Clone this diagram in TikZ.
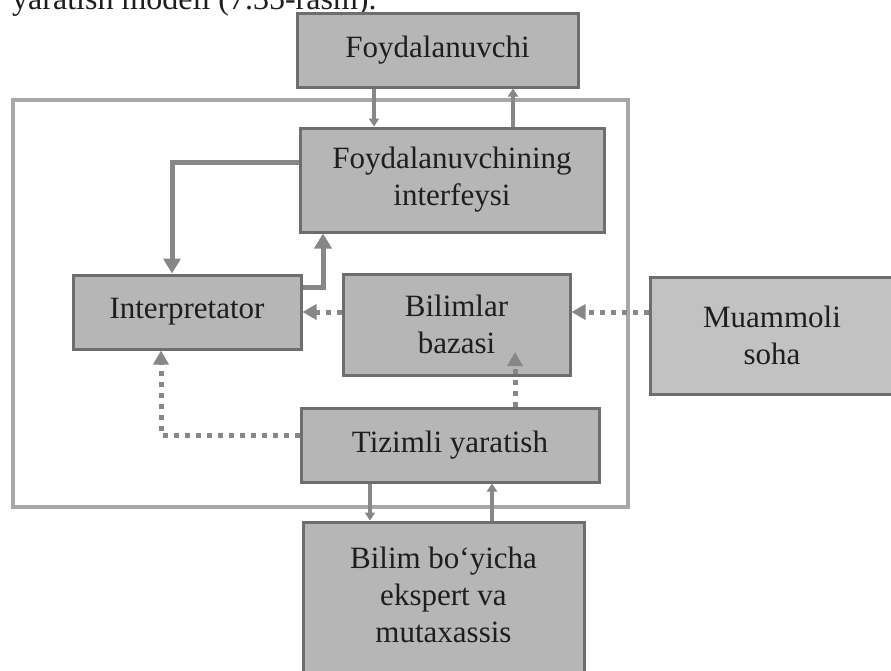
\documentclass[tikz,border=0pt]{standalone}
\usepackage{fontspec}
\setmainfont{Liberation Serif}
\usetikzlibrary{arrows.meta}
\definecolor{boxfill}{HTML}{B6B6B6}
\definecolor{boxfilllight}{HTML}{C2C2C2}
\definecolor{boxdraw}{HTML}{6E6E6E}
\definecolor{framec}{HTML}{A8A8A8}
\definecolor{arrc}{HTML}{878787}
\definecolor{txtc}{HTML}{1E1E1E}
\begin{document}
\begin{tikzpicture}[x=1pt,y=-1pt,
  boxnode/.style={draw=boxdraw, fill=boxfill, line width=3pt, inner sep=0pt,
    align=center, text=txtc, font=\fontsize{31}{37}\selectfont},
  txtnode/.style={inner sep=0pt, align=center, text=txtc, font=\fontsize{31}{37}\selectfont},
  solidarr/.style={draw=arrc, line width=5pt, -{Triangle[width=17pt,length=15pt]}},
  thinarr/.style={draw=arrc, line width=4.5pt, -{Triangle[width=10pt,length=8pt]}},
  dotarr/.style={draw=arrc, line width=5pt, dash pattern=on 5pt off 6pt,
    -{Triangle[width=15pt,length=14pt]}}
]
\useasboundingbox (0,0) rectangle (891,670);
\clip (0,0) rectangle (891,670);
\fill[white] (0,0) rectangle (891,670);

% clipped line of body text at the top
\node[txtnode, anchor=base west, font=\fontsize{32}{38}\selectfont] (toptext) at (12,9) {yaratish modeli (7.35-rasm).};

% outer frame
\draw[framec, line width=3.5pt] (13,100) rectangle (628,507);

% boxes
\node[boxnode, minimum width=281pt, minimum height=74pt] (foyd) at (437.5,50) {Foydalanuvchi};
\node[boxnode, minimum width=304pt, minimum height=104pt] (intf) at (452,180) {Foydalanuvchining\\interfeysi};
\node[boxnode, minimum width=228pt, minimum height=74pt] (interp) at (187,312) {Interpretator};
\node[boxnode, minimum width=227pt, minimum height=101pt] (bilim) at (456.5,324.5) {Bilimlar\\bazasi};
\node[boxnode, fill=boxfilllight, minimum width=244pt, minimum height=117pt] (muam) at (772,335.5) {Muammoli\\soha};
\node[boxnode, minimum width=298pt, minimum height=74pt] (tiz) at (450,445) {Tizimli yaratish};
\node[boxnode, minimum width=281pt, minimum height=168pt] (eksp) at (443.5,606) {};
\node[txtnode] (ekspt) at (443.5,595) {Bilim bo‘yicha\\ekspert va\\mutaxassis};

% helper coordinates for connector routes
\coordinate (xa) at (374,0);
\coordinate (xb) at (513,0);
\coordinate (pc) at (172,162);
\coordinate (pd) at (323,287);
\coordinate (py) at (0,312);
\coordinate (pe) at (515,352);
\coordinate (pf) at (161,435);
\coordinate (xg) at (370,0);
\coordinate (xh) at (492,0);

% connectors
\draw[thinarr] (xa |- foyd.south) -- (xa |- intf.north);
\draw[thinarr] (xb |- intf.north) -- (xb |- foyd.south);
\draw[solidarr] (pc -| intf.west) -- (pc) -- (pc |- interp.north);
\draw[solidarr] (pd -| interp.east) -- (pd) -- (pd |- intf.south);
\draw[dotarr] (py -| bilim.west) -- (py -| interp.east);
\draw[dotarr] (py -| muam.west) -- (py -| bilim.east);
\draw[dotarr] (pe |- tiz.north) -- (pe);
\draw[dotarr] (pf -| tiz.west) -- (pf) -- (pf |- interp.south);
\draw[thinarr] (xg |- tiz.south) -- (xg |- eksp.north);
\draw[thinarr] (xh |- eksp.north) -- (xh |- tiz.south);
\end{tikzpicture}
\end{document}
